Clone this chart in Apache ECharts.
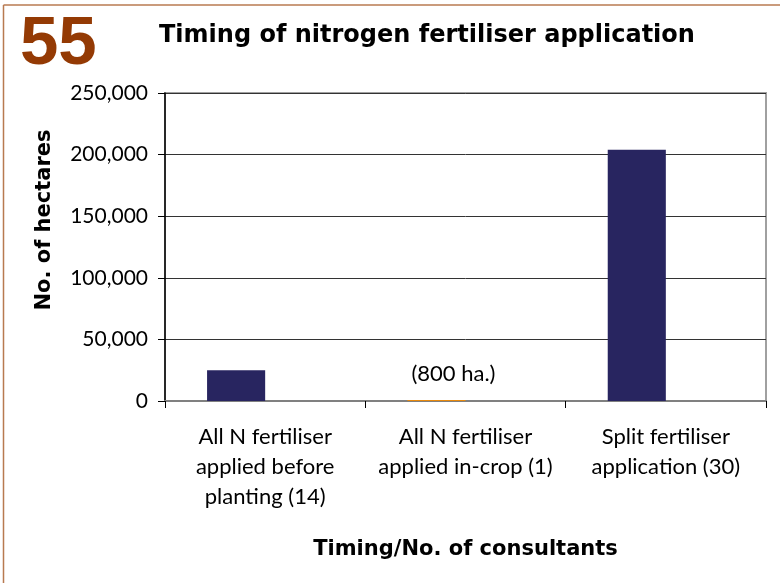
<!DOCTYPE html>
<html>
<head>
<meta charset="utf-8">
<script src="https://cdn.jsdelivr.net/npm/echarts@6/dist/echarts.min.js"></script>
<style>
  html, body { margin: 0; padding: 0; background: #fff; }
  #chart { width: 780px; height: 583px; }
</style>
</head>
<body>
<div id="chart"></div>
<script>
// Hectares by timing of nitrogen application (consultant counts in brackets)
const categories = [
  'All N fertiliser\napplied before\nplanting (14)',
  'All N fertiliser\napplied in-crop (1)',
  'Split fertiliser\napplication (30)'
];
const hectares = [25000, 800, 204000];
const barColors = ['#282560', '#e8890c', '#282560'];
const valueLabels = ['', '(800 ha.)', ''];
const yTicks = { min: 0, max: 250000, interval: 50000 };

const FONT = 'Lato, "Open Sans", sans-serif';
const HEAVY = '"DejaVu Sans", Verdana, sans-serif';

const chart = echarts.init(document.getElementById('chart'), null, { renderer: 'canvas' });

chart.setOption({
  animation: false,
  backgroundColor: '#ffffff',
  grid: {
    left: 165, right: 14, top: 93, bottom: 182,
    show: true, borderColor: '#a0a0a0', borderWidth: 2
  },
  graphic: [
    { type: 'line', shape: { x1: 3.5, y1: 5, x2: 780, y2: 5 }, style: { stroke: '#b87a50', lineWidth: 1.5 } },
    { type: 'line', shape: { x1: 3.5, y1: 5, x2: 3.5, y2: 583 }, style: { stroke: '#b87a50', lineWidth: 1.5 } },
    { type: 'text', left: 20, top: 10,
      style: { text: '55', font: 'bold 69px "Liberation Sans", Arial, sans-serif', fill: '#943a04' } },
    { type: 'text', left: 159, top: 24,
      style: { text: 'Timing of nitrogen fertiliser application', font: 'bold 24px ' + HEAVY, fill: '#000' } },
    { type: 'text', x: 45, y: 220, rotation: Math.PI / 2,
      style: { text: 'No. of hectares', font: 'bold 21px ' + HEAVY, fill: '#000',
               align: 'center', verticalAlign: 'middle' } }
  ],
  xAxis: {
    type: 'category',
    data: categories,
    name: 'Timing/No. of consultants',
    nameLocation: 'middle',
    nameGap: 138,
    nameTextStyle: { fontFamily: HEAVY, fontWeight: 'bold', fontSize: 21, color: '#000' },
    axisLine: { lineStyle: { color: '#808080', width: 2 } },
    axisTick: { show: true, alignWithLabel: false, length: 7, lineStyle: { color: '#000' } },
    axisLabel: { fontFamily: FONT, fontSize: 22, color: '#000', lineHeight: 30, margin: 21, interval: 0 },
    splitLine: { show: false }
  },
  yAxis: {
    type: 'value',
    min: yTicks.min, max: yTicks.max, interval: yTicks.interval,
    axisLine: { show: true, lineStyle: { color: '#000', width: 1.5 } },
    axisTick: { show: true, length: 7, lineStyle: { color: '#000' } },
    axisLabel: {
      fontFamily: FONT, fontSize: 21, color: '#000', margin: 17,
      formatter: v => v.toLocaleString('en-US')
    },
    splitLine: { show: true, lineStyle: { color: '#333', width: 1 } }
  },
  series: [
    {
      type: 'bar',
      barWidth: '29%',
      barGap: '0%',
      data: hectares.map((v, i) => ({
        value: v,
        itemStyle: { color: barColors[i] },
        label: {
          show: valueLabels[i] !== '',
          position: 'top',
          offset: [17, -10],
          formatter: valueLabels[i],
          fontFamily: FONT, fontSize: 22, color: '#000'
        }
      }))
    },
    {
      type: 'bar',
      barWidth: '29%',
      data: hectares.map(() => null)
    }
  ]
});
</script>
</body>
</html>
